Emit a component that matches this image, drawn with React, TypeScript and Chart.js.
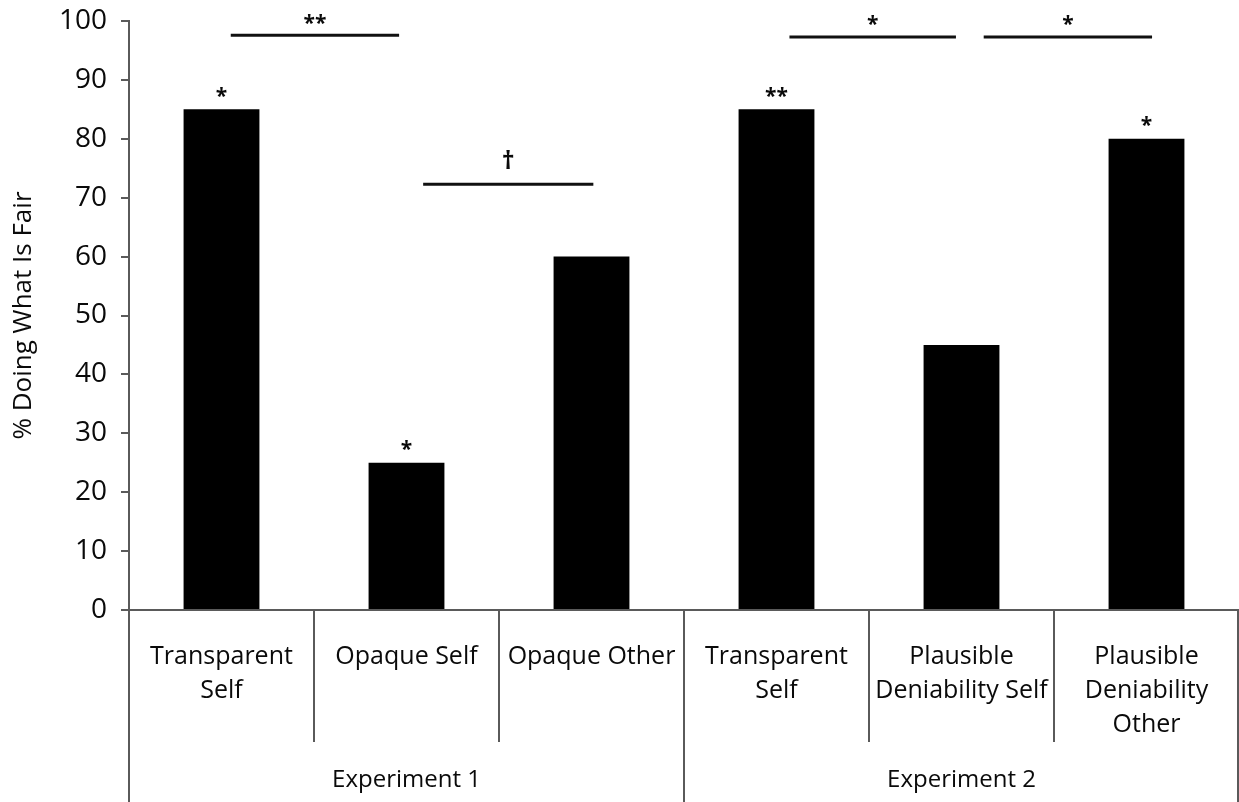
import React, { useEffect, useRef } from "react";
import { Chart, registerables } from "chart.js";

Chart.register(...registerables);

const categories: string[][] = [
  ["Transparent", "Self"],
  ["Opaque Self"],
  ["Opaque Other"],
  ["Transparent", "Self"],
  ["Plausible", "Deniability Self"],
  ["Plausible", "Deniability", "Other"],
];
const values = [85, 25, 60, 85, 45, 80];
const barMarks = ["*", "*", "", "**", "", "*"];
const groupLabels = ["Experiment 1", "Experiment 2"];
const groupSizes = [3, 3];
const yMin = 0;
const yMax = 100;
const yStep = 10;
const yTitle = "% Doing What Is Fair";
// significance brackets: from/to in category-index units, y in data units
const bracketFrom = [0.05, 1.09, 3.07, 4.12];
const bracketTo = [0.96, 2.01, 3.97, 5.03];
const bracketY = [97.6, 72.3, 97.3, 97.3];
const bracketLabels = ["**", "†", "*", "*"];

const FONT = "'Open Sans', sans-serif";
const WEIGHT = 500;
const AXIS_COLOR = "#5a5a5a";
const TEXT_COLOR = "#0a0a0a";

const annotationPlugin = {
  id: "annotations",
  afterDraw(chart: any) {
    const ctx = chart.ctx as CanvasRenderingContext2D;
    const area = chart.chartArea;
    const xs = chart.scales.x;
    const ys = chart.scales.y;
    const p0 = xs.getPixelForValue(0);
    const p1 = xs.getPixelForValue(1);
    const px = (v: number) => p0 + v * (p1 - p0);
    const H = chart.height;

    ctx.save();
    ctx.strokeStyle = AXIS_COLOR;
    ctx.lineWidth = 2;
    const groupEnds: number[] = [];
    let acc = 0;
    groupSizes.forEach((g) => {
      acc += g;
      groupEnds.push(acc);
    });
    for (let i = 0; i <= categories.length; i++) {
      const bx = i === 0 ? area.left : i === categories.length ? area.right - 1 : px(i - 0.5);
      const isGroup = i === 0 || groupEnds.includes(i);
      const yEnd = isGroup ? H : area.bottom + 132;
      ctx.beginPath();
      ctx.moveTo(bx, area.bottom);
      ctx.lineTo(bx, yEnd);
      ctx.stroke();
    }
    ctx.fillStyle = TEXT_COLOR;
    ctx.font = `${WEIGHT} 24px ${FONT}`;
    ctx.textAlign = "center";
    ctx.textBaseline = "middle";
    let start = 0;
    groupSizes.forEach((g, gi) => {
      const left = start === 0 ? area.left : px(start - 0.5);
      const end = start + g;
      const right = end === categories.length ? area.right : px(end - 0.5);
      ctx.fillText(groupLabels[gi], (left + right) / 2, area.bottom + 170);
      start = end;
    });

    ctx.strokeStyle = "#111";
    ctx.lineWidth = 3;
    ctx.textBaseline = "bottom";
    bracketFrom.forEach((f, i) => {
      const y = ys.getPixelForValue(bracketY[i]);
      const x1 = px(f);
      const x2 = px(bracketTo[i]);
      ctx.beginPath();
      ctx.moveTo(x1, y);
      ctx.lineTo(x2, y);
      ctx.stroke();
      const lab = bracketLabels[i];
      if (lab === "†") {
        ctx.font = `bold 25px ${FONT}`;
        ctx.fillText(lab, (x1 + x2) / 2, y - 10);
      } else {
        ctx.font = `bold 21px ${FONT}`;
        ctx.fillText(lab, (x1 + x2) / 2, y - 1);
      }
    });

    ctx.font = `bold 21px ${FONT}`;
    const meta = chart.getDatasetMeta(0);
    meta.data.forEach((bar: any, i: number) => {
      if (!barMarks[i]) return;
      ctx.fillText(barMarks[i], bar.x, bar.y - 2);
    });
    ctx.restore();
  },
};

export default function App() {
  const ref = useRef<HTMLCanvasElement | null>(null);
  useEffect(() => {
    document.body.style.margin = "0";
    if (!ref.current) return;
    const chart = new Chart(ref.current, {
      type: "bar",
      data: {
        labels: categories,
        datasets: [
          {
            data: values,
            backgroundColor: "#000000",
            borderWidth: 0,
            barPercentage: 0.41,
            categoryPercentage: 1,
          },
        ],
      },
      options: {
        animation: false,
        responsive: false,
        devicePixelRatio: 1,
        layout: { padding: { top: 21, right: 0, left: 0, bottom: 0 } },
        plugins: {
          legend: { display: false },
          tooltip: { enabled: false },
          title: { display: false },
        },
        scales: {
          x: {
            grid: { display: false, offset: true },
            border: { display: true, color: AXIS_COLOR, width: 2 },
            ticks: {
              color: TEXT_COLOR,
              font: { family: FONT, size: 25, lineHeight: 1.36, weight: WEIGHT },
              padding: 22,
              maxRotation: 0,
              autoSkip: false,
            },
            afterFit: (s: any) => {
              s.height = 192;
              s.paddingLeft = 0;
              s.paddingRight = 0;
            },
          },
          y: {
            min: yMin,
            max: yMax,
            ticks: {
              stepSize: yStep,
              color: TEXT_COLOR,
              font: { family: FONT, size: 28, weight: WEIGHT },
              padding: 14,
            },
            grid: {
              drawOnChartArea: false,
              drawTicks: true,
              tickLength: 8,
              color: AXIS_COLOR,
              lineWidth: 2,
            },
            border: { display: true, color: AXIS_COLOR, width: 2 },
            title: {
              display: true,
              text: yTitle,
              color: TEXT_COLOR,
              font: { family: FONT, size: 26, weight: WEIGHT },
              padding: { top: 8, bottom: 0 },
            },
            afterFit: (s: any) => {
              s.width = 129;
              s.paddingTop = 0;
              s.paddingBottom = 0;
            },
          },
        },
      },
      plugins: [annotationPlugin],
    });
    return () => chart.destroy();
  }, []);
  return <canvas ref={ref} width={1239} height={802} style={{ display: "block" }} />;
}
